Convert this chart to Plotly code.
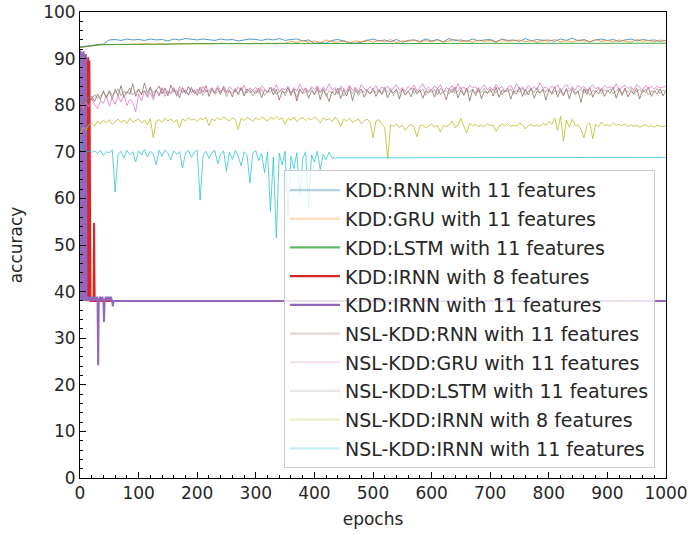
import plotly.graph_objects as go

# ---------------- data ----------------
names = [
    "KDD:RNN with 11 features",
    "KDD:GRU with 11 features",
    "KDD:LSTM with 11 features",
    "KDD:IRNN with 8 features",
    "KDD:IRNN with 11 features",
    "NSL-KDD:RNN with 11 features",
    "NSL-KDD:GRU with 11 features",
    "NSL-KDD:LSTM with 11 features",
    "NSL-KDD:IRNN with 8 features",
    "NSL-KDD:IRNN with 11 features",
]

ep10 = list(range(0, 1001, 10))
ep5 = list(range(0, 1001, 5))

kdd_rnn = [92.5, 92.7, 92.9, 93.0, 93.1, 94.0, 94.1, 93.9, 94.2, 94.0,
           94.1, 93.9, 94.2, 94.0, 94.1, 93.8, 94.2, 94.0, 94.3, 94.1,
           94.0, 94.2, 94.1, 93.9, 94.2, 94.0, 94.1, 93.8, 94.0, 94.2,
           94.1, 93.9, 94.2, 94.0, 94.3, 93.9, 94.1, 94.2, 93.8, 94.0,
           93.3, 93.4, 93.3, 93.9, 94.1, 93.7, 93.4, 93.3, 93.5, 93.9,
           94.2, 93.8, 94.0, 93.6, 94.1, 93.5, 93.9, 94.0, 93.7, 94.2,
           93.8, 94.1, 93.6, 94.3, 93.9, 94.0, 93.7, 94.2, 93.8, 94.0,
           94.1, 93.6, 94.2, 93.9, 94.0, 93.7, 94.3, 93.8, 94.1, 93.9,
           94.0, 93.7, 94.2, 93.9, 94.4, 93.8, 94.1, 93.6, 94.0, 94.2,
           93.9, 94.1, 93.7, 94.0, 94.2, 93.8, 94.1, 93.9, 94.0, 93.7, 93.9]

kdd_gru = [92.4, 92.6, 92.8, 92.9, 93.0, 93.0, 93.1, 93.1, 93.0, 93.1,
           93.1, 93.2, 93.1, 93.1, 93.2, 93.1, 93.2, 93.2, 93.1, 93.2,
           93.2, 93.2, 93.1, 93.2, 93.3, 93.2, 93.2, 93.3, 93.2, 93.2,
           93.3, 93.2, 93.3, 93.2, 93.3, 93.3, 93.7, 93.4, 93.9, 93.5,
           93.8, 93.4, 94.0, 93.6, 93.5, 93.9, 93.4, 93.8, 93.6, 94.0,
           93.5, 93.9, 93.6, 94.1, 93.4, 93.8, 93.7, 94.0, 93.5, 93.9,
           93.6, 94.0, 93.5, 93.8, 94.1, 93.6, 93.9, 93.5, 94.0, 93.7,
           93.9, 93.5, 94.1, 93.7, 93.8, 94.0, 93.6, 93.9, 93.5, 94.0,
           93.7, 94.1, 93.6, 93.9, 93.5, 94.0, 93.8, 93.6, 94.1, 93.7,
           93.9, 93.6, 94.0, 93.8, 93.5, 94.1, 93.7, 93.9, 93.6, 94.0, 93.8]

kdd_lstm_x = [0, 10, 20, 30, 40, 50, 60, 80, 100, 150, 200, 300, 400, 500, 600, 700, 800, 900, 1000]
kdd_lstm = [92.4, 92.6, 92.8, 92.9, 93.0, 93.0, 93.1, 93.1, 93.1, 93.1, 93.2, 93.2, 93.2, 93.2,
            93.3, 93.3, 93.3, 93.3, 93.3]

kdd_irnn8_x = list(range(0, 20)) + [23, 24, 25, 1000]
kdd_irnn8 = [91.0, 38.0, 90.5, 38.0, 89.8, 38.0, 91.2, 38.0, 90.0, 38.0,
             90.8, 38.0, 89.5, 38.0, 90.3, 38.0, 89.6, 38.0, 38.0, 38.0,
             38.0, 54.7, 38.0, 38.0]

kdd_irnn11_x = list(range(0, 11)) + [11, 13, 15, 17, 19, 21, 23, 25, 27, 29, 30, 31, 32, 34,
                                     36, 38, 40, 41, 42, 44, 46, 48, 50, 52, 54, 55, 56, 57, 60, 1000]
kdd_irnn11 = [91.8, 38.0, 91.5, 38.0, 90.9, 38.0, 91.6, 38.0, 90.4, 38.0, 91.0,
              38.0, 38.9, 38.0, 38.9, 38.1, 38.9, 38.0, 38.9, 38.1, 38.9, 38.0, 24.2, 38.0, 38.9,
              38.1, 38.9, 38.0, 33.5, 38.0, 38.9, 38.1, 38.9, 38.0, 38.9, 38.1, 38.0, 36.8, 38.0, 38.0, 38.0]

nsl_rnn = [78.5, 80.1, 81.0, 80.3, 81.9, 80.8, 82.4, 81.2, 83.1, 81.6, 82.9, 81.3, 83.4, 82.0, 84.2, 81.7, 83.0, 82.3, 84.6, 81.9,
           83.5, 82.2, 84.8, 82.6, 83.9, 81.8, 83.2, 84.1, 82.4, 83.7, 82.0, 84.3, 82.9, 83.1, 81.6, 83.8, 82.5, 84.0, 82.7, 83.3,
           82.1, 83.9, 82.8, 84.2, 81.9, 83.4, 82.6, 83.7, 82.3, 84.1, 82.9, 83.2, 81.8, 83.6, 82.4, 83.8, 82.0, 83.5, 82.7, 83.1,
           82.5, 83.7, 81.6, 83.3, 82.8, 83.9, 82.2, 83.4, 81.1, 83.0, 82.6, 83.8, 82.1, 83.5, 80.9, 83.2, 82.7, 83.6, 81.5, 83.1,
           82.3, 83.8, 81.2, 83.4, 82.5, 80.8, 83.0, 82.2, 83.7, 81.4, 83.3, 82.0, 83.9, 81.0, 83.2, 82.6, 83.5, 81.7, 83.1, 82.4,
           83.6, 81.9, 83.2, 82.5, 83.8, 81.6, 83.0, 82.7, 83.4, 81.3, 83.5, 82.2, 83.0, 81.8, 83.7, 82.4, 83.3, 81.5, 83.1, 82.6,
           83.4, 81.8, 83.6, 82.3, 83.0, 81.2, 83.5, 82.7, 83.9, 81.6, 83.2, 82.1, 83.7, 80.9, 83.3, 82.5, 83.8, 81.4, 83.0, 82.6,
           83.5, 82.0, 83.9, 81.7, 83.2, 82.8, 83.6, 81.3, 83.1, 82.4, 83.8, 81.9, 83.4, 82.2, 83.7, 81.5, 83.0, 82.7, 83.5, 81.1,
           83.3, 82.5, 83.9, 81.8, 83.2, 82.0, 83.6, 81.4, 83.4, 82.6, 83.0, 80.6, 83.5, 82.3, 83.8, 81.7, 83.1, 82.4, 83.6, 81.9,
           83.2, 82.6, 83.9, 81.5, 83.4, 82.1, 83.7, 81.8, 83.0, 82.5, 83.6, 81.3, 83.3, 82.7, 83.8, 81.9, 83.1, 82.4, 83.5, 82.0, 83.2]

nsl_gru = [80.5, 79.2, 80.8, 79.6, 81.4, 80.1, 79.3, 81.0, 80.4, 82.1, 79.8, 81.5, 80.2, 81.9, 80.7, 82.3, 79.9, 81.2, 80.6, 78.6,
           82.4, 80.9, 83.1, 81.6, 82.7, 81.2, 83.3, 82.0, 83.6, 81.9, 83.0, 82.5, 83.8, 82.2, 84.0, 82.8, 83.4, 82.1, 83.9, 82.6,
           83.5, 82.4, 84.1, 82.9, 83.2, 83.8, 82.7, 84.2, 83.0, 83.6, 82.5, 84.0, 83.3, 82.8, 83.9, 83.1, 84.3, 82.6, 83.7, 83.2,
           83.8, 82.9, 84.2, 83.4, 82.7, 83.9, 83.1, 84.4, 82.8, 83.6, 83.3, 84.1, 82.6, 83.8, 83.0, 84.5, 83.2, 83.7, 82.9, 84.0,
           83.4, 84.2, 82.8, 83.9, 83.1, 84.6, 83.3, 83.8, 82.7, 84.1, 83.5, 83.0, 84.3, 83.2, 83.9, 82.9, 84.4, 83.6, 83.1, 84.0,
           83.3, 84.2, 82.8, 83.9, 83.5, 84.1, 83.0, 83.7, 84.5, 83.2, 83.8, 82.9, 84.0, 83.4, 84.3, 83.1, 83.7, 84.6, 83.3, 83.9,
           83.2, 84.1, 83.6, 84.4, 82.9, 83.8, 83.4, 84.2, 83.0, 84.7, 83.5, 83.9, 83.1, 84.3, 83.7, 84.0, 82.8, 83.6, 84.4, 83.3,
           83.9, 83.2, 84.5, 83.6, 84.0, 82.9, 83.8, 84.3, 83.1, 84.6, 83.4, 83.9, 83.0, 84.2, 83.5, 84.0, 83.2, 84.8, 83.6, 83.9,
           83.3, 84.1, 83.7, 84.4, 83.0, 83.8, 84.5, 83.4, 84.0, 83.2, 84.3, 83.6, 84.1, 82.9, 83.8, 84.4, 83.5, 83.9, 83.1, 84.2,
           83.7, 84.0, 83.4, 84.6, 83.2, 83.9, 84.3, 83.6, 84.0, 83.1, 84.5, 83.8, 83.3, 84.2, 83.6, 84.0, 83.4, 84.1, 83.7, 83.9, 84.0]

nsl_lstm = [80.2, 81.0, 80.6, 81.8, 81.2, 82.3, 81.5, 82.0, 82.8, 81.7, 83.2, 82.1, 82.6, 83.5, 82.0, 83.0, 82.4, 83.7, 82.2, 82.9,
            83.4, 82.5, 83.1, 82.0, 83.6, 82.7, 83.2, 82.3, 83.8, 82.6, 83.0, 82.4, 83.5, 81.9, 83.3, 82.8, 83.1, 82.2, 83.6, 82.5,
            82.9, 83.4, 82.1, 83.2, 82.7, 83.6, 82.3, 83.0, 82.8, 83.5, 81.8, 83.1, 82.6, 83.3, 82.2, 83.7, 82.5, 82.9, 83.4, 82.0,
            83.2, 82.6, 83.5, 82.1, 83.0, 82.8, 83.6, 82.3, 82.9, 83.4, 82.0, 83.3, 82.7, 83.1, 81.7, 83.5, 82.4, 83.0, 82.8, 83.6,
            82.2, 83.3, 82.7, 83.5, 81.9, 83.1, 82.6, 83.4, 82.3, 83.7, 82.0, 82.9, 83.2, 82.5, 83.6, 82.1, 83.0, 82.8, 83.4, 82.4,
            83.1, 82.7, 83.5, 82.2, 83.3, 82.9, 83.6, 82.0, 83.2, 82.6, 83.4, 82.3, 83.0, 83.7, 82.5, 83.1, 82.8, 83.5, 82.1, 83.3,
            82.7, 83.4, 82.2, 83.6, 82.9, 83.1, 82.4, 83.5, 82.6, 83.0, 83.8, 82.3, 83.2, 82.8, 83.5, 82.0, 83.3, 82.7, 83.6, 82.5,
            83.0, 83.4, 82.6, 83.7, 82.2, 83.1, 82.9, 83.5, 82.4, 83.3, 82.8, 83.6, 82.1, 83.0, 83.4, 82.7, 83.8, 82.5, 83.2, 82.9,
            83.5, 82.3, 83.1, 82.8, 83.6, 82.4, 83.3, 82.9, 83.7, 82.2, 83.0, 83.4, 82.6, 83.5, 82.1, 83.2, 82.8, 83.6, 82.5, 83.3,
            82.9, 83.5, 82.4, 83.1, 83.7, 82.6, 83.2, 82.9, 83.6, 82.3, 83.0, 83.4, 82.7, 83.5, 82.2, 83.1, 82.8, 83.6, 82.5, 83.2, 83.0]

nsl_irnn8 = [73.5, 75.2, 74.6, 75.8, 76.3, 75.5, 76.6, 76.0, 76.8, 76.2, 76.9, 75.9, 76.5, 77.0, 76.3, 76.8, 76.1, 77.2, 76.4, 76.7,
             77.0, 76.2, 76.8, 75.8, 77.1, 73.0, 76.5, 76.9, 76.3, 77.2, 76.6, 77.0, 76.4, 76.9, 75.2, 77.1, 76.6, 77.3, 76.8, 77.0,
             76.5, 77.2, 76.9, 77.4, 75.6, 77.0, 76.7, 77.3, 76.8, 77.5, 77.1, 76.6, 77.3, 76.9, 74.8, 77.2, 76.7, 77.4, 77.0, 76.5,
             77.3, 76.8, 77.5, 77.1, 76.6, 77.4, 77.0, 77.6, 76.9, 77.3, 75.9, 77.2, 76.8, 77.5, 76.4, 77.1, 77.4, 76.7, 77.2, 76.9,
             77.5, 77.0, 76.2, 77.3, 76.8, 77.1, 76.5, 77.4, 76.9, 75.4, 77.0, 76.6, 77.2, 76.3, 76.8, 77.1, 76.0, 76.7, 77.0, 76.4,
             73.0, 76.6, 76.9, 75.9, 75.3, 68.5, 75.8, 75.4, 76.0, 75.2, 75.7, 74.6, 75.5, 75.9, 75.3, 73.2, 75.6, 75.8, 75.1, 75.5,
             75.9, 75.3, 75.7, 74.2, 75.6, 75.4, 75.8, 76.6, 75.2, 75.7, 77.2, 75.5, 74.0, 76.1, 75.6, 75.9, 75.4, 75.7, 75.3, 76.0,
             75.6, 75.8, 74.4, 75.5, 75.9, 75.6, 76.0, 75.4, 75.7, 75.5, 76.2, 75.8, 74.9, 75.6, 75.9, 75.5, 75.8, 75.4, 76.1, 75.7,
             76.5, 75.9, 77.3, 74.6, 77.6, 72.3, 76.8, 75.3, 77.0, 75.6, 75.8, 74.8, 73.0, 75.6, 76.2, 72.8, 75.9, 75.4, 76.4, 75.6,
             75.8, 75.5, 76.2, 75.7, 75.9, 75.6, 76.0, 75.4, 75.8, 75.5, 75.7, 75.3, 75.6, 75.8, 75.4, 75.6, 75.3, 75.7, 75.5, 75.4, 75.5]

nsl_irnn11_x = list(range(0, 431, 5)) + [1000]
nsl_irnn11 = [73.0, 70.2, 70.0, 70.1, 69.9, 70.2, 69.6, 70.3, 69.2, 70.0, 69.8, 70.4, 61.4, 69.5, 70.1, 68.7, 70.3, 69.4, 70.0, 67.8,
              70.2, 69.3, 70.5, 68.9, 70.1, 69.6, 67.2, 70.3, 69.0, 70.4, 69.7, 68.3, 70.2, 69.5, 70.0, 66.5, 69.8, 70.3, 68.8, 69.9,
              70.4, 59.6, 69.2, 70.1, 68.6, 69.8, 70.3, 67.4, 69.5, 70.2, 65.8, 69.9, 68.4, 70.3, 69.1, 67.0, 70.0, 69.4, 63.3, 69.8,
              70.2, 68.1, 69.6, 65.5, 70.0, 57.2, 68.9, 51.5, 69.7, 67.2, 70.1, 56.5, 69.0, 66.4, 69.8, 60.5, 68.5, 70.0, 58.0, 69.3,
              67.8, 70.1, 66.2, 69.5, 68.3, 69.9, 68.7, 68.8]

x_ticks = [0, 100, 200, 300, 400, 500, 600, 700, 800, 900, 1000]
y_ticks = [0, 10, 20, 30, 40, 50, 60, 70, 80, 90, 100]

# ---------------- styling ----------------
series = [
    (ep10, kdd_rnn, "rgba(31,119,180,0.75)", 1.0, "rgba(31,119,180,0.35)"),
    (ep10, kdd_gru, "rgba(255,127,14,0.75)", 1.0, "rgba(255,127,14,0.3)"),
    (kdd_lstm_x, kdd_lstm, "rgba(44,160,44,0.9)", 1.0, "rgba(44,160,44,0.75)"),
    (kdd_irnn8_x, kdd_irnn8, "#d62728", 2.0, "#d62728"),
    (kdd_irnn11_x, kdd_irnn11, "#9467bd", 2.0, "#9467bd"),
    (ep5, nsl_rnn, "rgba(140,86,75,0.7)", 1.0, "rgba(140,86,75,0.25)"),
    (ep5, nsl_gru, "rgba(227,119,194,0.8)", 1.0, "rgba(227,119,194,0.25)"),
    (ep5, nsl_lstm, "rgba(127,127,127,0.6)", 1.0, "rgba(127,127,127,0.2)"),
    (ep5, nsl_irnn8, "rgba(188,189,34,0.8)", 1.0, "rgba(188,189,34,0.25)"),
    (nsl_irnn11_x, nsl_irnn11, "rgba(23,190,207,0.7)", 1.0, "rgba(23,190,207,0.25)"),
]

FONT = "DejaVu Sans"
fig = go.Figure()
for name, (xs, ys, col, w, lcol) in zip(names, series):
    fig.add_trace(go.Scatter(x=xs, y=ys, mode="lines", line=dict(color=col, width=w),
                             showlegend=False, hoverinfo="skip"))
for name, (xs, ys, col, w, lcol) in zip(names, series):
    fig.add_trace(go.Scatter(x=[None], y=[None], mode="lines", name=name,
                             line=dict(color=lcol, width=2.2), legendgroup=name))

fig.update_layout(
    width=688, height=535,
    margin=dict(l=80, r=22, t=12, b=57, autoexpand=False),
    paper_bgcolor="white", plot_bgcolor="white",
    font=dict(family=FONT, size=17, color="#262626"),
    legend=dict(x=0.348, y=0.021, xanchor="left", yanchor="bottom",
                bgcolor="rgba(255,255,255,0.8)", bordercolor="#cccccc", borderwidth=1,
                font=dict(family=FONT, size=19, color="#262626"), tracegroupgap=1,
                itemwidth=50),
)
fig.update_xaxes(range=[0, 1000], tickvals=x_ticks, ticks="inside", ticklen=6, tickcolor="black",
                 showline=True, linecolor="black", linewidth=1, mirror=True, showgrid=False,
                 zeroline=False, automargin=False,
                 minor=dict(dtick=20, ticks="inside", ticklen=3, tickcolor="black"),
                 title=dict(text="epochs", font=dict(size=17), standoff=10),
                 tickfont=dict(size=17))
fig.update_yaxes(range=[0, 100], tickvals=y_ticks, ticks="inside", ticklen=6, tickcolor="black",
                 showline=True, linecolor="black", linewidth=1, mirror=True, showgrid=False,
                 zeroline=False, automargin=False,
                 minor=dict(dtick=2, ticks="inside", ticklen=3, tickcolor="black"),
                 title=dict(text="accuracy", font=dict(size=17), standoff=16),
                 tickfont=dict(size=17))

fig.write_html("out.html")
